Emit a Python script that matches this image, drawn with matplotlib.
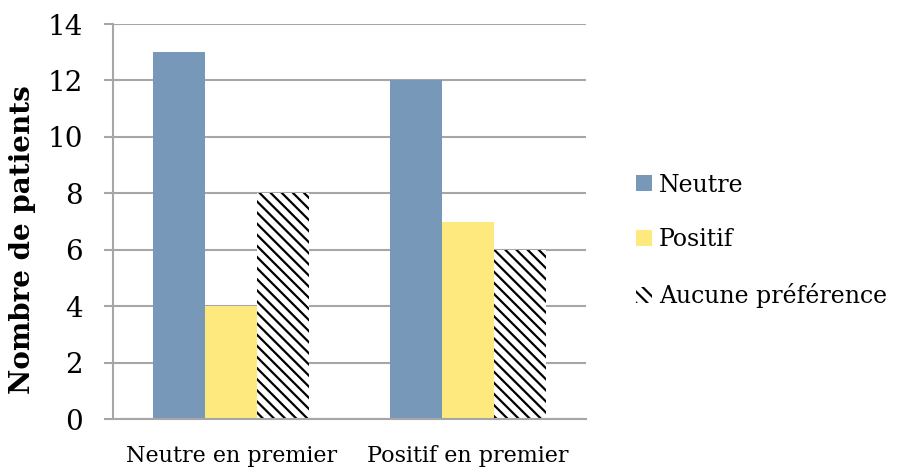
import matplotlib
matplotlib.use('Agg')
import matplotlib.pyplot as plt
import matplotlib.patches as mpatches
import numpy as np

plt.rcParams['font.family'] = ['DejaVu Serif']
plt.rcParams['hatch.linewidth'] = 1.6

categories = ['Neutre en premier', 'Positif en premier']
series_names = ['Neutre', 'Positif', 'Aucune préférence']
neutre = [13, 12]
positif = [4, 7]
aucune = [8, 6]

blue = '#7798b9'
yellow = '#fde97e'
grid_grey = '#a6a6a6'
hatch = '\\\\\\'

fig = plt.figure(figsize=(8.97, 4.68), dpi=100)
ax = fig.add_axes([113 / 897, 1 - 419 / 468, (586 - 113) / 897, (419 - 24) / 468])

x = np.arange(len(categories))
w = 0.22
ax.bar(x - w, neutre, w, color=blue, zorder=3)
ax.bar(x, positif, w, color=yellow, zorder=3)
ax.bar(x + w, aucune, w, color='white', edgecolor='black', hatch=hatch, linewidth=0, zorder=3)

ax.set_xlim(-0.5, 1.5)
ax.set_ylim(0, 14)
ax.set_yticks(range(0, 15, 2))
ax.set_xticks(x)
ax.set_xticklabels(categories, fontsize=16)
ax.tick_params(axis='x', length=0, pad=19)
ax.tick_params(axis='y', length=6.5, width=1.5, color=grid_grey, labelsize=20, pad=15)
ax.yaxis.grid(True, color=grid_grey, linewidth=1.5, zorder=0)
for side in ['top', 'right']:
    ax.spines[side].set_visible(False)
for side in ['left', 'bottom']:
    ax.spines[side].set_color(grid_grey)
    ax.spines[side].set_linewidth(1.5)
ax.spines['bottom'].set_zorder(4)

fig.text(23 / 897, 1 - 240 / 468, 'Nombre de patients', rotation=90, ha='center', va='center',
         fontsize=20, fontweight='bold')

handles = [
    mpatches.Patch(facecolor=blue, label=series_names[0]),
    mpatches.Patch(facecolor=yellow, label=series_names[1]),
    mpatches.Patch(facecolor='white', edgecolor='black', hatch=hatch, linewidth=0, label=series_names[2]),
]
fig.legend(handles=handles, loc='center left', bbox_to_anchor=(636 / 897, 1 - 241 / 468),
           frameon=False, fontsize=17, handlelength=0.68, handleheight=0.68,
           handletextpad=0.3, labelspacing=1.35, borderpad=0, borderaxespad=0)

fig.savefig('out.png', dpi=100)
